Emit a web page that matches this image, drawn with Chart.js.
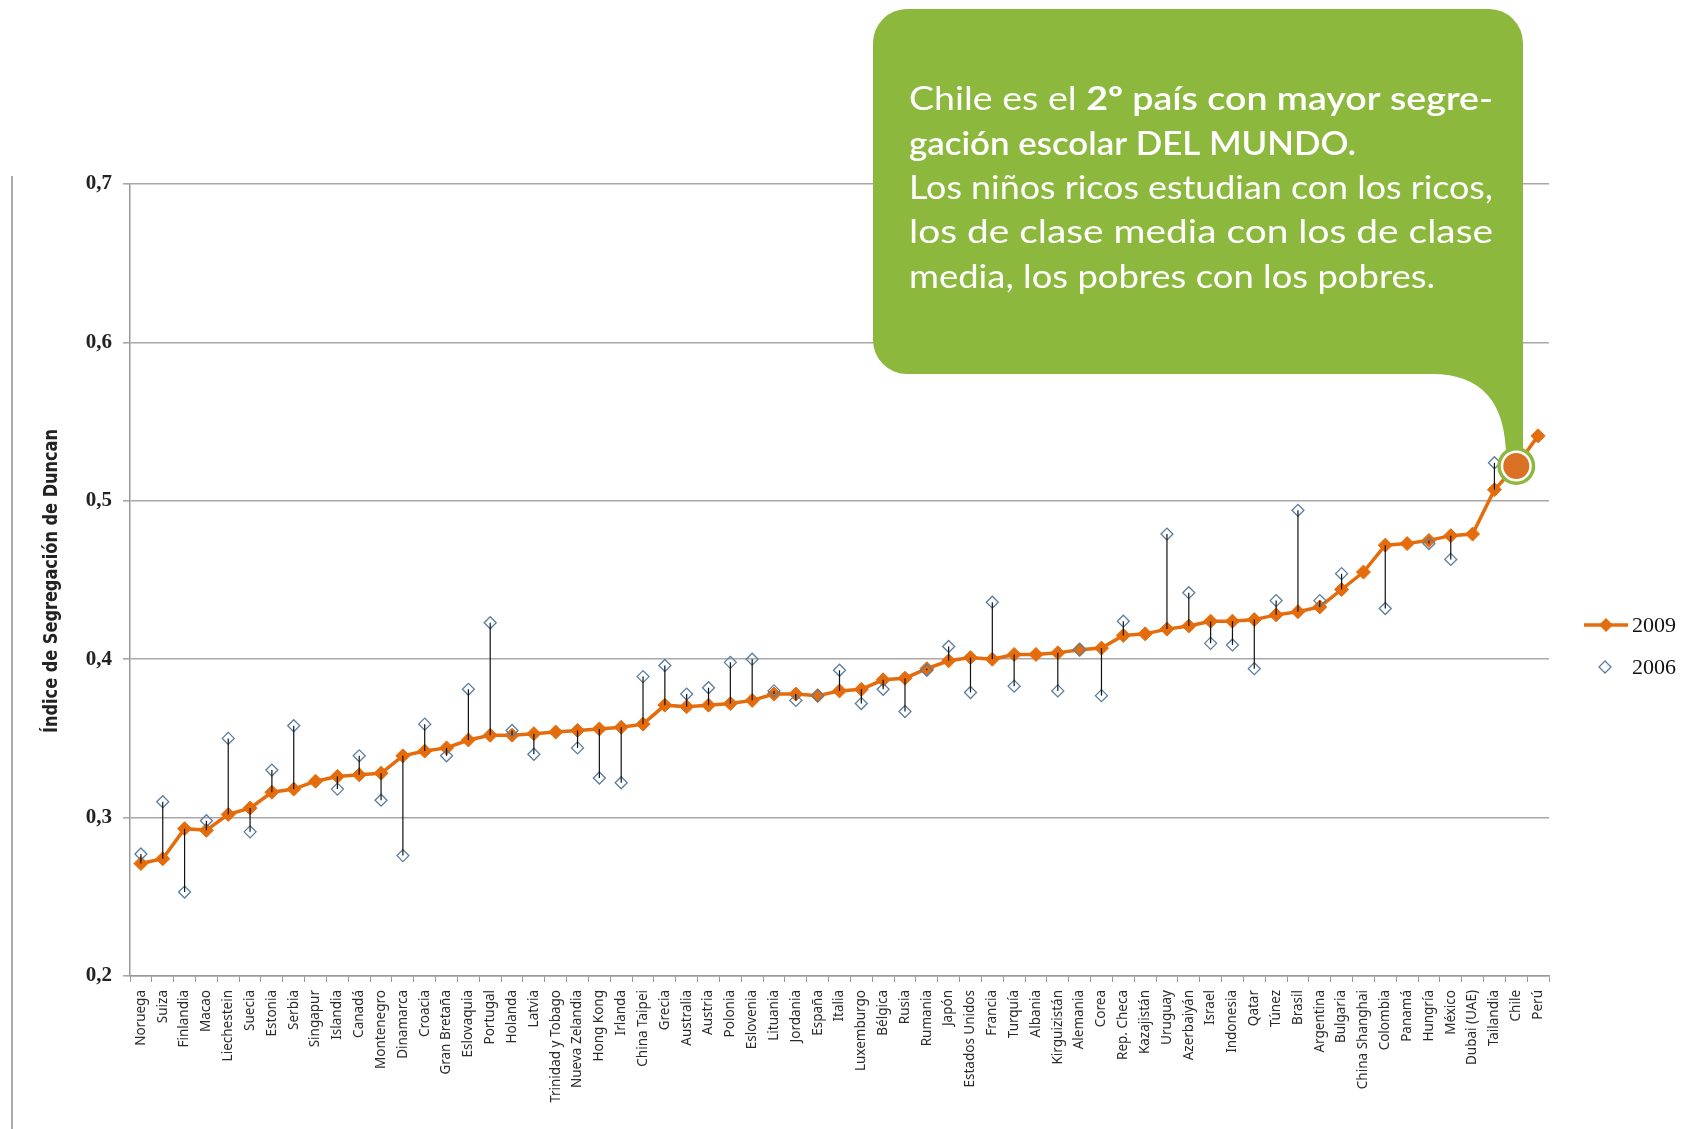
<!DOCTYPE html>
<html>
<head>
<meta charset="utf-8">
<script src="https://cdn.jsdelivr.net/npm/chart.js@4.4.0/dist/chart.umd.min.js"></script>
<style>
  body { margin: 0; background: #fff; }
  canvas { display: block; }
</style>
</head>
<body>
<canvas id="chart" width="1690" height="1129"></canvas>
<script>
// data
const countries = ["Noruega", "Suiza", "Finlandia", "Macao", "Liechestein", "Suecia", "Estonia", "Serbia",
  "Singapur", "Islandia", "Canadá", "Montenegro", "Dinamarca", "Croacia", "Gran Bretaña", "Eslovaquia",
  "Portugal", "Holanda", "Latvia", "Trinidad y Tobago", "Nueva Zelandia", "Hong Kong", "Irlanda",
  "China Taipei", "Grecia", "Australia", "Austria", "Polonia", "Eslovenia", "Lituania", "Jordania",
  "España", "Italia", "Luxemburgo", "Bélgica", "Rusia", "Rumania", "Japón", "Estados Unidos", "Francia",
  "Turquía", "Albania", "Kirguizistán", "Alemania", "Corea", "Rep. Checa", "Kazajistán", "Uruguay",
  "Azerbaiyán", "Israel", "Indonesia", "Qatar", "Túnez", "Brasil", "Argentina", "Bulgaria",
  "China Shanghai", "Colombia", "Panamá", "Hungría", "México", "Dubai (UAE)", "Tailandia", "Chile", "Perú"];

const seg2009 = [0.271, 0.274, 0.293, 0.292, 0.302, 0.306, 0.316, 0.318, 0.323, 0.326, 0.327, 0.328,
  0.339, 0.342, 0.344, 0.349, 0.352, 0.352, 0.353, 0.354, 0.355, 0.356, 0.357, 0.359, 0.371, 0.370,
  0.371, 0.372, 0.374, 0.378, 0.378, 0.377, 0.380, 0.381, 0.387, 0.388, 0.394, 0.399, 0.401, 0.400,
  0.403, 0.403, 0.404, 0.406, 0.407, 0.415, 0.416, 0.419, 0.421, 0.424, 0.424, 0.425, 0.428, 0.430,
  0.433, 0.444, 0.455, 0.472, 0.473, 0.475, 0.478, 0.479, 0.507, 0.522, 0.541];

const seg2006 = [0.277, 0.310, 0.253, 0.298, 0.350, 0.291, 0.330, 0.358, null, 0.318, 0.339, 0.311,
  0.276, 0.359, 0.339, 0.381, 0.423, 0.355, 0.340, null, 0.344, 0.325, 0.322, 0.389, 0.396, 0.378,
  0.382, 0.398, 0.400, 0.380, 0.374, 0.377, 0.393, 0.372, 0.381, 0.367, 0.393, 0.408, 0.379, 0.436,
  0.383, null, 0.380, 0.406, 0.377, 0.424, null, 0.479, 0.442, 0.410, 0.409, 0.394, 0.437, 0.494,
  0.437, 0.454, null, 0.432, null, 0.473, 0.463, null, 0.524, 0.522, null];

const seriesNames = ["2009", "2006"];
const yMin = 0.2, yMax = 0.7, yStep = 0.1;
const yTitle = "Índice de Segregación de Duncan";
const highlight = "Chile";
const calloutLines = [
  [["Chile es el ", 400], ["2º", 700], [" país con mayor segre-", 600]],
  [["gación escolar DEL MUNDO.", 600]],
  [["Los niños ricos estudian con los ricos,", 400]],
  [["los de clase media con los de clase", 400]],
  [["media, los pobres con los pobres.", 400]]
];

const ORANGE = "#e56c0c";
const GREEN = "#8db83e";

// draw a line of (text, weight) pieces squeezed/stretched to a given width
function fitLine(ctx, parts, x, y, width, size, family) {
  let total = 0;
  parts.forEach(p => {
    ctx.font = p[1] + " " + size + "px " + family;
    total += ctx.measureText(p[0]).width;
  });
  ctx.save();
  ctx.translate(x, y);
  ctx.scale(width / total, 1);
  let cx = 0;
  parts.forEach(p => {
    ctx.font = p[1] + " " + size + "px " + family;
    ctx.fillText(p[0], cx, 0);
    cx += ctx.measureText(p[0]).width;
  });
  ctx.restore();
}

const dropLines = {
  id: "dropLines",
  afterDatasetsDraw(chart) {
    const ctx = chart.ctx;
    const m09 = chart.getDatasetMeta(0).data;
    const m06 = chart.getDatasetMeta(1).data;
    ctx.save();
    ctx.strokeStyle = "#111";
    ctx.lineWidth = 1.2;
    for (let i = 0; i < countries.length; i++) {
      if (seg2009[i] == null || seg2006[i] == null) continue;
      ctx.beginPath();
      ctx.moveTo(m09[i].x, m09[i].y);
      ctx.lineTo(m06[i].x, m06[i].y);
      ctx.stroke();
    }
    ctx.restore();
  }
};

const extras = {
  id: "extras",
  afterDraw(chart) {
    const ctx = chart.ctx;
    ctx.save();

    // left border line
    ctx.strokeStyle = "#aaa";
    ctx.lineWidth = 2;
    ctx.beginPath();
    ctx.moveTo(12, 176);
    ctx.lineTo(12, 1129);
    ctx.stroke();

    // y axis title
    ctx.fillStyle = "#222";
    ctx.textBaseline = "middle";
    ctx.save();
    ctx.translate(52, 581);
    ctx.rotate(-Math.PI / 2);
    fitLine(ctx, [[yTitle, 700]], -152, 0, 304, 19, "'Liberation Sans Narrow', 'DejaVu Sans Condensed', sans-serif");
    ctx.restore();

    // legend
    const ds = chart.data.datasets;
    ctx.strokeStyle = ds[0].borderColor;
    ctx.lineWidth = 3.5;
    ctx.beginPath();
    ctx.moveTo(1584, 625);
    ctx.lineTo(1628, 625);
    ctx.stroke();
    ctx.fillStyle = ds[0].pointBackgroundColor;
    ctx.beginPath();
    ctx.moveTo(1606, 618); ctx.lineTo(1613, 625); ctx.lineTo(1606, 632); ctx.lineTo(1599, 625);
    ctx.closePath();
    ctx.fill();
    ctx.fillStyle = "#fff";
    ctx.strokeStyle = ds[1].pointBorderColor;
    ctx.lineWidth = 1.3;
    ctx.beginPath();
    ctx.moveTo(1605, 661); ctx.lineTo(1611, 667); ctx.lineTo(1605, 673); ctx.lineTo(1599, 667);
    ctx.closePath();
    ctx.fill();
    ctx.stroke();
    ctx.fillStyle = "#111";
    ctx.font = "22px 'Liberation Serif', serif";
    ctx.textBaseline = "middle";
    ctx.fillText(ds[0].label, 1632, 626);
    ctx.fillText(ds[1].label, 1632, 668);

    // callout bubble
    const L = 873, T = 9, R = 1523, B = 374, r = 34;
    ctx.fillStyle = GREEN;
    ctx.beginPath();
    ctx.moveTo(L + r, T);
    ctx.arcTo(R, T, R, T + r, r);
    ctx.lineTo(R, 458);
    ctx.lineTo(1506, 458);
    ctx.quadraticCurveTo(1506, B, 1432, B);
    ctx.lineTo(L + r, B);
    ctx.arcTo(L, B, L, B - r, r);
    ctx.lineTo(L, T + r);
    ctx.arcTo(L, T, L + r, T, r);
    ctx.closePath();
    ctx.fill();

    ctx.fillStyle = "#fff";
    ctx.textBaseline = "alphabetic";
    const fam = "Lato, 'Open Sans', sans-serif";
    const baselines = [110, 155, 199, 243, 288];
    const widths = [584, 447, 584, 584, 526];
    calloutLines.forEach((parts, i) => fitLine(ctx, parts, 909, baselines[i], widths[i], 33, fam));

    // highlighted point
    const idx = countries.indexOf(highlight);
    const pt = chart.getDatasetMeta(0).data[idx];
    ctx.beginPath();
    ctx.arc(pt.x, pt.y, 19, 0, Math.PI * 2);
    ctx.fillStyle = GREEN;
    ctx.fill();
    ctx.beginPath();
    ctx.arc(pt.x, pt.y, 15.5, 0, Math.PI * 2);
    ctx.fillStyle = "#fff";
    ctx.fill();
    ctx.beginPath();
    ctx.arc(pt.x, pt.y, 13, 0, Math.PI * 2);
    ctx.fillStyle = "#da7125";
    ctx.fill();

    ctx.restore();
  }
};

const ctx = document.getElementById("chart").getContext("2d");
const chart = new Chart(ctx, {
  type: "line",
  data: {
    labels: countries,
    datasets: [
      {
        label: seriesNames[0],
        data: seg2009,
        borderColor: ORANGE,
        backgroundColor: ORANGE,
        borderWidth: 3.5,
        pointStyle: "rectRot",
        pointRadius: 7,
        pointBackgroundColor: ORANGE,
        pointBorderColor: ORANGE,
        pointBorderWidth: 1,
        tension: 0,
        order: 1
      },
      {
        label: seriesNames[1],
        data: seg2006,
        showLine: false,
        pointStyle: "rectRot",
        pointRadius: 6,
        pointBackgroundColor: "rgba(255,255,255,0)",
        pointBorderColor: "#5b7d9e",
        pointBorderWidth: 1.3,
        order: 0
      }
    ]
  },
  options: {
    responsive: false,
    animation: false,
    layout: { padding: { left: 0, top: 184, right: 141, bottom: 0 } },
    plugins: { legend: { display: false }, tooltip: { enabled: false } },
    scales: {
      x: {
        offset: true,
        grid: { drawOnChartArea: false, offset: true, tickLength: 6, color: "#999" },
        border: { color: "#999", width: 1.5 },
        ticks: {
          autoSkip: false, minRotation: 90, maxRotation: 90, padding: 8, color: "#2a2a2a",
          font: { family: "'Noto Sans', sans-serif", size: 13.5 }
        },
        afterFit: s => { s.height = 153; }
      },
      y: {
        min: yMin, max: yMax,
        ticks: {
          stepSize: yStep, padding: 11, color: "#222",
          font: { family: "'Liberation Serif', serif", size: 21, weight: "bold" },
          callback: v => v.toFixed(1).replace(".", ",")
        },
        grid: { color: "#a8a8a8", lineWidth: 1.6, tickLength: 7 },
        border: { color: "#999", width: 1.5 },
        afterFit: s => { s.width = 130; }
      }
    }
  },
  plugins: [dropLines, extras]
});
</script>
</body>
</html>
